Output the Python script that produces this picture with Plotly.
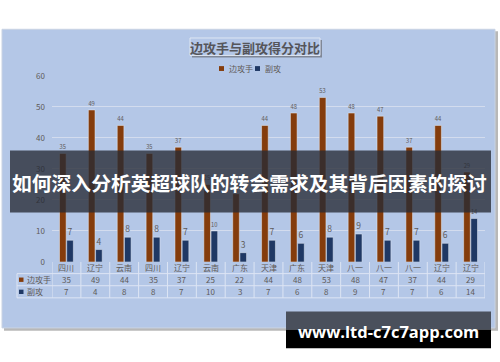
import plotly.graph_objects as go

categories = ["四川", "辽宁", "云南", "四川", "辽宁", "云南", "广东", "天津", "广东", "天津", "八一", "八一", "八一", "辽宁", "辽宁"]
wing = [35, 49, 44, 35, 37, 25, 22, 44, 48, 53, 48, 47, 37, 44, 29]
middle = [7, 4, 8, 8, 7, 10, 3, 7, 6, 8, 9, 7, 7, 6, 14]
series_names = ["边攻手", "副攻"]
y_ticks = [0, 10, 20, 30, 40, 50, 60]
chart_title = "边攻手与副攻得分对比"
banner_text = "如何深入分析英超球队的转会需求及其背后因素的探讨"
watermark = "www.ltd-c7c7app.com"

W, H = 500, 362
ORANGE = "#843c0c"
BLUE = "#1f3864"
PANEL = "#b4c7e7"
TXT = "#5f5a58"
GRID = "#d3dcee"
FONT = "Noto Sans CJK SC, Microsoft YaHei, sans-serif"


def px(x):
    return x / W


def py(y):
    return 1 - y / H


x_idx = list(range(len(categories)))

fig = go.Figure()
fig.add_trace(go.Bar(x=x_idx, y=wing, name=series_names[0], marker_color=ORANGE,
                     text=wing, textposition="outside", cliponaxis=False,
                     textfont=dict(size=8.5, color=TXT, family=FONT)))
fig.add_trace(go.Bar(x=x_idx, y=middle, name=series_names[1], marker_color=BLUE,
                     text=middle, textposition="outside", cliponaxis=False,
                     textfont=dict(size=8.5, color=TXT, family=FONT)))

shapes = []
annotations = []

# panel shadow and panel
shapes.append(dict(type="rect", xref="paper", yref="paper", x0=px(4), x1=px(498), y0=py(335), y1=py(26),
                   fillcolor="#b8b8b8", line=dict(width=0), layer="below"))
shapes.append(dict(type="rect", xref="paper", yref="paper", x0=px(2), x1=px(495), y0=py(332), y1=py(24),
                   fillcolor=PANEL, line=dict(color="#c9d3e3", width=1), layer="below"))

# title box with shadow
shapes.append(dict(type="rect", xref="paper", yref="paper", x0=px(192), x1=px(322), y0=py(53), y1=py(35),
                   fillcolor="#7f8797", line=dict(width=0), layer="below"))
shapes.append(dict(type="rect", xref="paper", yref="paper", x0=px(190), x1=px(320), y0=py(51), y1=py(33),
                   fillcolor=PANEL, line=dict(color="#dfe6f3", width=1), layer="below"))
annotations.append(dict(text="<b>" + chart_title + "</b>", xref="paper", yref="paper", x=px(255), y=py(43),
                        showarrow=False, font=dict(size=13, color="#55555a", family=FONT),
                        xanchor="center", yanchor="middle"))

# legend
for cx, col, name, tx in [(222, ORANGE, series_names[0], 227), (258, BLUE, series_names[1], 263)]:
    shapes.append(dict(type="rect", xref="paper", yref="paper", x0=px(cx - 3), x1=px(cx + 2), y0=py(67), y1=py(62),
                       fillcolor=col, line=dict(width=0)))
    annotations.append(dict(text=name, xref="paper", yref="paper", x=px(tx), y=py(64.5), showarrow=False,
                            font=dict(size=8, color=TXT, family=FONT), xanchor="left", yanchor="middle"))

# data table
tbl_top, r1, r2, tbl_bot = 264, 276, 288.5, 301
line_c = "#dde5f4"
n = len(categories)
for i in range(n + 1):
    shapes.append(dict(type="line", xref="x", yref="paper", x0=i - 0.5, x1=i - 0.5,
                       y0=py(tbl_bot), y1=py(tbl_top), line=dict(color=line_c, width=1)))
shapes.append(dict(type="line", xref="paper", yref="paper", x0=px(17), x1=px(17),
                   y0=py(tbl_bot), y1=py(r1), line=dict(color=line_c, width=1)))
for yy, x0 in [(r1, 17), (r2, 17), (tbl_bot, 17)]:
    shapes.append(dict(type="line", xref="paper", yref="paper", x0=px(x0), x1=px(485),
                       y0=py(yy), y1=py(yy), line=dict(color=line_c, width=1)))
for i, (c, a, b) in enumerate(zip(categories, wing, middle)):
    annotations.append(dict(text=c, xref="x", yref="paper", x=i, y=py((tbl_top + r1) / 2), showarrow=False,
                            font=dict(size=8, color=TXT, family=FONT), yanchor="middle"))
    annotations.append(dict(text=str(a), xref="x", yref="paper", x=i, y=py((r1 + r2) / 2), showarrow=False,
                            font=dict(size=8, color=TXT, family=FONT), yanchor="middle"))
    annotations.append(dict(text=str(b), xref="x", yref="paper", x=i, y=py((r2 + tbl_bot) / 2), showarrow=False,
                            font=dict(size=8, color=TXT, family=FONT), yanchor="middle"))
for yy, col, name in [((r1 + r2) / 2, ORANGE, series_names[0]), ((r2 + tbl_bot) / 2, BLUE, series_names[1])]:
    shapes.append(dict(type="rect", xref="paper", yref="paper", x0=px(19), x1=px(23.5), y0=py(yy + 2.3), y1=py(yy - 2.2),
                       fillcolor=col, line=dict(width=0)))
    annotations.append(dict(text=name, xref="paper", yref="paper", x=px(24.5), y=py(yy), showarrow=False,
                            font=dict(size=8, color=TXT, family=FONT), xanchor="left", yanchor="middle"))

# banner overlay
shapes.append(dict(type="rect", xref="paper", yref="paper", x0=px(10), x1=px(491), y0=py(213), y1=py(149),
                   fillcolor="rgba(38,42,52,0.78)", line=dict(width=0), layer="above"))
annotations.append(dict(text="<b>" + banner_text + "</b>", xref="paper", yref="paper", x=px(249.5), y=py(182),
                        showarrow=False, font=dict(size=19.8, color="white", family=FONT),
                        xanchor="center", yanchor="middle"))

# watermark
shapes.append(dict(type="rect", xref="paper", yref="paper", x0=px(286), x1=px(491), y0=py(334), y1=py(315),
                   fillcolor="#4a505c", line=dict(width=0), layer="above"))
shapes.append(dict(type="rect", xref="paper", yref="paper", x0=px(286), x1=px(491), y0=py(353), y1=py(334),
                   fillcolor="#000000", line=dict(width=0), layer="above"))
annotations.append(dict(text="<b>" + watermark + "</b>", xref="paper", yref="paper", x=px(388), y=py(336),
                        showarrow=False, font=dict(size=16.5, color="white", family="Open Sans, DejaVu Sans, sans-serif"),
                        xanchor="center", yanchor="middle"))

fig.update_layout(
    width=W, height=H, margin=dict(l=0, r=0, t=0, b=0),
    paper_bgcolor="white", plot_bgcolor="rgba(0,0,0,0)",
    barmode="group", bargap=0.5, bargroupgap=0.08, showlegend=False,
    shapes=shapes, annotations=annotations,
    xaxis=dict(domain=[px(52), px(485)], range=[-0.5, n - 0.5], showticklabels=False,
               showgrid=False, zeroline=False, fixedrange=True),
    yaxis=dict(domain=[py(264), py(72)], range=[0, 60], tickvals=y_ticks,
               tickfont=dict(size=8, color=TXT, family=FONT), gridcolor=GRID, gridwidth=1,
               zeroline=False, ticklabelstandoff=6, fixedrange=True),
    font=dict(family=FONT),
)

fig.write_html("out.html")
